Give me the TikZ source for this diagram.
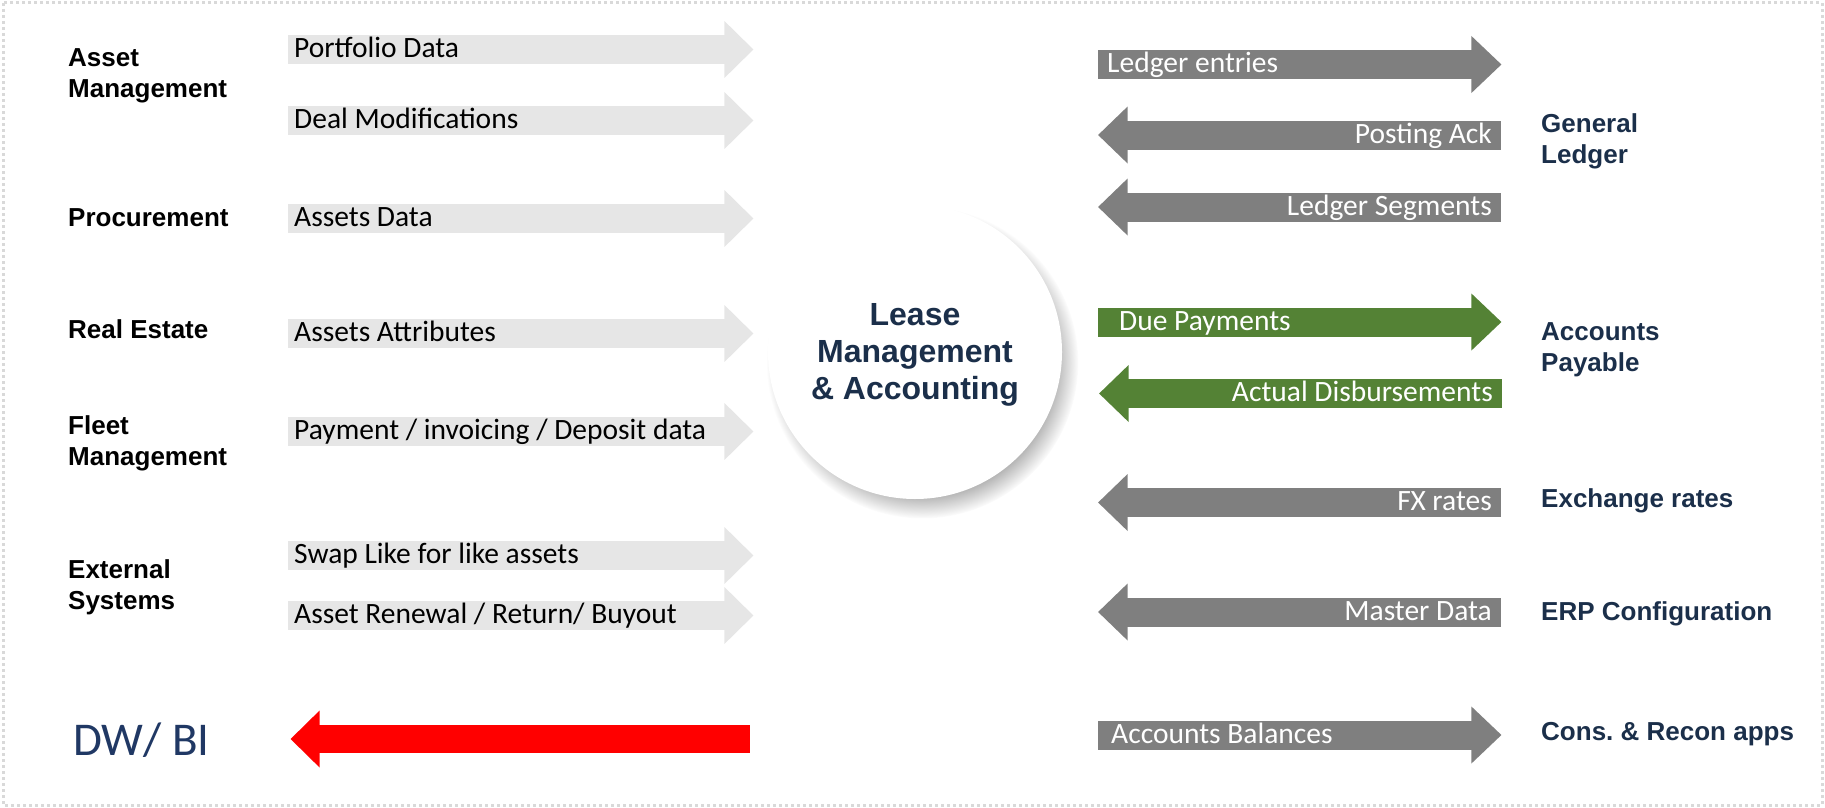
\documentclass[tikz,border=0pt]{standalone}
\usepackage{fontspec}
\setmainfont{Liberation Sans}
\newfontfamily\calib{Carlito}
\usetikzlibrary{shapes,arrows,shadows}
\definecolor{inbox}{HTML}{E6E6E6}
\definecolor{outbox}{HTML}{7F7F7F}
\definecolor{paybox}{HTML}{548235}
\definecolor{navy}{HTML}{1B2F4A}
\definecolor{dwblue}{HTML}{203864}
\definecolor{framegray}{HTML}{D9D9D9}
\frenchspacing
\begin{document}
\begin{tikzpicture}[x=1pt,y=-1pt,
  src/.style={anchor=north west,inner sep=0pt,align=left,font=\bfseries\fontsize{26}{31}\selectfont},
  dst/.style={src,text=navy},
  flow/.style={inner ysep=0pt,text height=22.5pt,text depth=6.5pt,font=\calib\fontsize{29.5}{35}\selectfont,
    execute at begin node={\spaceskip=\fontdimen2\font\xspaceskip=\fontdimen2\font}},
  infl/.style={flow,fill=inbox,anchor=west,inner xsep=6pt,text width=425pt,align=left},
  outfl/.style={flow,fill=outbox,text=white,anchor=west,inner xsep=9pt,text width=356pt,align=left},
  backfl/.style={flow,fill=outbox,text=white,anchor=east,inner xsep=9pt,text width=356pt,align=right},
  hub/.style={circle,fill=white,minimum size=294pt,inner sep=0pt,
    circular drop shadow={shadow xshift=7pt,shadow yshift=-10pt,shadow scale=1.06,opacity=.6}},
  hubtext/.style={align=center,text=navy,inner sep=0pt,font=\bfseries\fontsize{32}{37}\selectfont}]
\useasboundingbox (0,0) rectangle (1825,808);
\draw[framegray,line width=3pt,dash pattern=on 3pt off 3pt] (3,3) rectangle (1822,805);

\node[src] (am) at (68,48.4) {Asset\\Management};
\node[src] (pr) at (68,208.4) {Procurement};
\node[src] (re) at (68,319.4) {Real Estate};
\node[src] (fm) at (68,415.4) {Fleet\\Management};
\node[src] (es) at (68,559.4) {External\\Systems};

\node[infl] (pd) at (288,49.5) {Portfolio Data};
\node[infl] (dm) at (288,120.5) {Deal Modifications};
\node[infl] (ad) at (288,218.5) {Assets Data};
\node[infl] (aa) at (288,333.5) {Assets Attributes};
\node[infl] (pi) at (288,431.5) {Payment / invoicing / Deposit data};
\node[infl] (sw) at (288,555.5) {Swap Like for like assets};
\node[infl] (rr) at (288,615.5) {Asset Renewal / Return/ Buyout};
\fill[inbox] (pd.east) +(-1,-28.5) -- +(28,0) -- +(-1,28.5) -- cycle;
\fill[inbox] (dm.east) +(-1,-28.5) -- +(28,0) -- +(-1,28.5) -- cycle;
\fill[inbox] (ad.east) +(-1,-28.5) -- +(28,0) -- +(-1,28.5) -- cycle;
\fill[inbox] (aa.east) +(-1,-28.5) -- +(28,0) -- +(-1,28.5) -- cycle;
\fill[inbox] (pi.east) +(-1,-28.5) -- +(28,0) -- +(-1,28.5) -- cycle;
\fill[inbox] (sw.east) +(-1,-28.5) -- +(28,0) -- +(-1,28.5) -- cycle;
\fill[inbox] (rr.east) +(-1,-28.5) -- +(28,0) -- +(-1,28.5) -- cycle;

\node[hub] (lma) at (915,352) {};
\node[hubtext] (lmt) at ([yshift=-3pt]lma.center) {Lease\\Management\\\& Accounting};

\node[outfl] (le) at (1098,64.5) {Ledger entries};
\node[backfl] (pa) at (1501,135) {Posting Ack};
\node[backfl] (ls) at (1501,207) {Ledger Segments};
\node[outfl,fill=paybox] (dp) at (1098,322) {\hspace*{12pt}Due Payments};
\node[backfl,fill=paybox] (ds) at (1502,393.5) {Actual Disbursements};
\node[backfl] (fx) at (1501,502.5) {FX rates};
\node[backfl] (md) at (1501,612) {Master Data};
\node[outfl] (ab) at (1098,735) {\hspace*{4pt}Accounts Balances};
\fill[outbox] (le.east) +(-1,-28.5) -- +(29,0) -- +(-1,28.5) -- cycle;
\fill[outbox] (pa.west) +(1,-28.5) -- +(-28.5,0) -- +(1,28.5) -- cycle;
\fill[outbox] (ls.west) +(1,-28.5) -- +(-28.5,0) -- +(1,28.5) -- cycle;
\fill[paybox] (dp.east) +(-1,-28.5) -- +(29,0) -- +(-1,28.5) -- cycle;
\fill[paybox] (ds.west) +(1,-28.5) -- +(-28.5,0) -- +(1,28.5) -- cycle;
\fill[outbox] (fx.west) +(1,-28.5) -- +(-28.5,0) -- +(1,28.5) -- cycle;
\fill[outbox] (md.west) +(1,-28.5) -- +(-28.5,0) -- +(1,28.5) -- cycle;
\fill[outbox] (ab.east) +(-1,-28.5) -- +(29,0) -- +(-1,28.5) -- cycle;

\node[dst] (gl) at (1541,113.4) {General\\Ledger};
\node[dst] (ap) at (1541,322.4) {Accounts\\Payable};
\node[dst] (xr) at (1541,488.4) {Exchange rates};
\node[dst] (erp) at (1541,601.4) {ERP Configuration};
\node[dst] (cr) at (1541,722.4) {Cons. \& Recon apps};

\node[anchor=base west,inner sep=0pt,text=dwblue,font=\calib\fontsize{47}{52}\selectfont] (bi) at (73,755) {DW/ BI};
\node[fill=red,minimum width=431pt,minimum height=28pt,inner sep=0pt,anchor=east] (dw) at (750,739) {};
\fill[red] (dw.west) +(1,-28.5) -- +(-28,0) -- +(1,28.5) -- cycle;
\end{tikzpicture}
\end{document}
